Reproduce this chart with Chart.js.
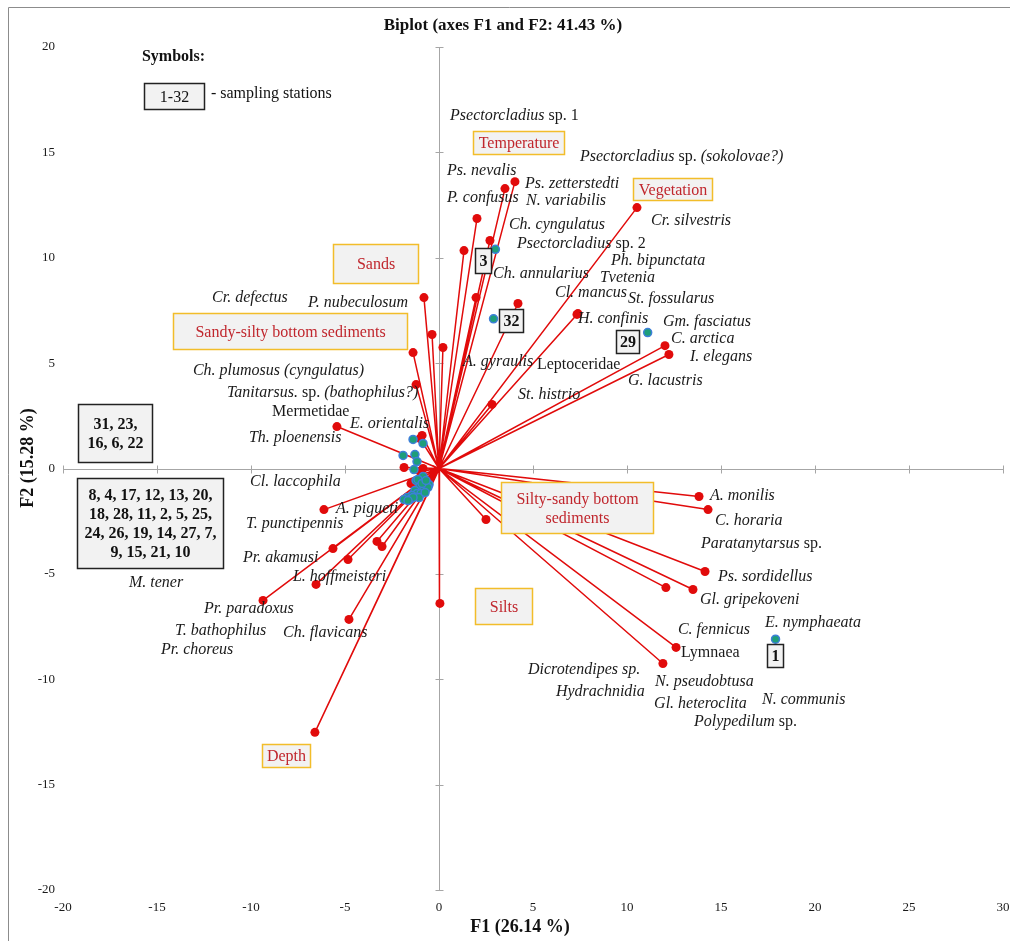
<!DOCTYPE html>
<html>
<head>
<meta charset="utf-8">
<script src="https://cdn.jsdelivr.net/npm/chart.js@4.4.1/dist/chart.umd.min.js"></script>
<style>
  html, body { margin: 0; padding: 0; background: #fff; }
  #wrap { position: relative; width: 1010px; height: 941px; }
</style>
</head>
<body>
<div id="wrap"><canvas id="biplot"></canvas></div>
<script>
// variable vectors (red), F1 / F2 coordinates
var varX = [4.04, 3.51, 2.02, 2.71, 1.33, 1.97, 4.20, 10.53, 7.34, 7.39, 12.02, 12.23, 2.82, 0.21,
  -0.80, -0.37, -1.38, -1.22, -5.43, -0.90, -1.01, -1.86, -1.01, -0.85, -1.49, -6.12, -5.64, -4.84,
  -3.30, -3.03, -6.54, -9.36, -4.79, 0.05, -6.60, 2.50, 13.83, 14.31, 14.15, 12.07, 13.51, 12.61, 11.91];
var varY = [13.61, 13.28, 11.86, 10.82, 10.34, 8.11, 7.83, 12.38, 7.31, 7.35, 5.83, 5.41, 3.04, 5.74,
  8.11, 6.36, 5.50, 3.98, 1.99, 1.57, 1.42, 0.05, -0.14, 0.00, -0.71, -1.95, -3.80, -4.32,
  -3.46, -3.70, -5.50, -6.26, -7.16, -6.40, -12.52, -2.42, -1.33, -1.95, -4.89, -5.65, -5.74, -8.49, -9.25];

// sampling stations (observations)
var siteX = [3.00, 2.90, 11.10, 17.90,
  -1.38, -0.85, -1.91, -1.28, -1.17,
  -1.33, -1.22, -0.85, -1.01, -0.64, -0.53, -0.80, -1.28, -1.17, -0.96, -1.44,
  -1.70, -1.86, -1.54, -1.06, -0.59, -0.74, -1.12, -1.38, -1.65, -0.90, -0.69];
var siteY = [10.40, 7.10, 6.45, -8.10,
  1.38, 1.19, 0.62, 0.66, 0.33,
  -0.05, -0.57, -0.38, -0.81, -0.85, -0.76, -0.95, -1.04, -1.19, -1.19, -1.28,
  -1.38, -1.47, -1.47, -1.38, -0.90, -1.14, -0.52, -1.38, -1.52, -0.71, -0.57];

var xTicks = [-20, -15, -10, -5, 0, 5, 10, 15, 20, 25, 30];
var yTicks = [-20, -15, -10, -5, 0, 5, 10, 15, 20];

var TITLE = "Biplot (axes F1 and F2: 41.43 %)";
var X_TITLE = "F1 (26.14 %)";
var Y_TITLE = "F2 (15.28 %)";

// species labels: text ({...} = upright), anchor (left, middle) in axis units
var speciesLabels = [
  ["Psectorcladius{ sp. 1}", 0.59, 16.75],
  ["Psectorcladius{ sp. }(sokolovae?)", 7.50, 14.80],
  ["Ps. nevalis", 0.43, 14.14],
  ["Ps. zetterstedti", 4.57, 13.52],
  ["P. confusus", 0.43, 12.86],
  ["N. variabilis", 4.63, 12.71],
  ["Ch. cyngulatus", 3.72, 11.57],
  ["Psectorcladius{ sp. 2}", 4.15, 10.67],
  ["Ch. annularius", 2.87, 9.25],
  ["Cr. silvestris", 11.28, 11.76],
  ["Ph. bipunctata", 9.15, 9.87],
  ["Tvetenia", 8.56, 9.06],
  ["Cl. mancus", 6.17, 8.35],
  ["St. fossularus", 10.05, 8.06],
  ["H. confinis", 7.39, 7.12],
  ["Gm. fasciatus", 11.91, 6.97],
  ["C. arctica", 12.34, 6.17],
  ["I. elegans", 13.35, 5.31],
  ["A. gyraulis", 1.28, 5.08],
  ["{Leptoceridae}", 5.21, 4.93],
  ["G. lacustris", 10.05, 4.17],
  ["St. histrio", 4.20, 3.51],
  ["Cr. defectus", -12.07, 8.11],
  ["P. nubeculosum", -6.97, 7.87],
  ["Ch. plumosus (cyngulatus)", -13.09, 4.65],
  ["Tanitarsus.{ sp. }(bathophilus?)", -11.28, 3.61],
  ["{Mermetidae}", -8.88, 2.70],
  ["E. orientalis", -4.73, 2.13],
  ["Th. ploenensis", -10.11, 1.47],
  ["Cl. laccophila", -10.05, -0.62],
  ["A. pigueti", -5.48, -1.90],
  ["T. punctipennis", -10.27, -2.61],
  ["Pr. akamusi", -10.43, -4.22],
  ["L. hoffmeisteri", -7.77, -5.12],
  ["M. tener", -16.49, -5.41],
  ["Pr. paradoxus", -12.50, -6.64],
  ["T. bathophilus", -14.04, -7.69],
  ["Ch. flavicans", -8.30, -7.78],
  ["Pr. choreus", -14.79, -8.59],
  ["A. monilis", 14.41, -1.28],
  ["C. horaria", 14.68, -2.47],
  ["Paratanytarsus{ sp.}", 13.94, -3.56],
  ["Ps. sordidellus", 14.84, -5.12],
  ["Gl. gripekoveni", 13.88, -6.21],
  ["C. fennicus", 12.71, -7.64],
  ["E. nymphaeata", 17.34, -7.31],
  ["{Lymnaea}", 12.87, -8.73],
  ["Dicrotendipes sp.", 4.73, -9.54],
  ["N. pseudobtusa", 11.49, -10.10],
  ["Hydrachnidia", 6.22, -10.58],
  ["Gl. heteroclita", 11.44, -11.15],
  ["N. communis", 17.18, -10.96],
  ["Polypedilum{ sp.}", 13.56, -12.00]
];

// environmental factors (boxed, red text): lines, x1, y1, x2, y2
var envBoxes = [
  [["Temperature"], 1.81, 16.03, 6.65, 14.94],
  [["Vegetation"], 10.32, 13.80, 14.52, 12.76],
  [["Sands"], -5.64, 10.63, -1.12, 8.78],
  [["Sandy-silty bottom sediments"], -14.15, 7.40, -1.70, 5.65],
  [["Silty-sandy bottom", "sediments"], 3.30, -0.66, 11.38, -3.08],
  [["Silts"], 1.91, -5.65, 4.95, -7.40],
  [["Depth"], -9.41, -13.09, -6.86, -14.18]
];

// station number boxes (bold)
var stationBoxes = [
  [["3"], 1.91, 10.44, 2.77, 9.30],
  [["32"], 3.19, 7.59, 4.47, 6.50],
  [["29"], 9.41, 6.55, 10.64, 5.46],
  [["1"], 17.45, -8.35, 18.30, -9.44],
  [["31, 23,", "16, 6, 22"], -19.20, 3.08, -15.27, 0.33],
  [["8, 4, 17, 12, 13, 20,", "18, 28, 11, 2, 5, 25,", "24, 26, 19, 14, 27, 7,", "9, 15, 21, 10"], -19.26, -0.43, -11.49, -4.70]
];

var RED = "#e10b0b";
var SITE_FILL = "#1e9e7a";
var SITE_EDGE = "#3d7fd9";
var AXIS = "#a6a6a6";
var ENV_TEXT = "#c0262d";
var ENV_EDGE = "#f2bd2a";
var BOX_FILL = "#f2f2f2";
var SERIF = "'Liberation Serif', 'Times New Roman', serif";

var vectorPoints = [];
varX.forEach(function (x, i) {
  vectorPoints.push({ x: 0, y: 0 });
  vectorPoints.push({ x: x, y: varY[i] });
});
var sitePoints = siteX.map(function (x, i) { return { x: x, y: siteY[i] }; });

function drawRich(ctx, text, x, y) {
  text.split(/(\{[^}]*\})/).forEach(function (p) {
    if (!p) return;
    var upright = p.charAt(0) === "{";
    var s = upright ? p.slice(1, -1) : p;
    ctx.font = (upright ? "" : "italic ") + "16px " + SERIF;
    ctx.fillText(s, x, y);
    x += ctx.measureText(s).width;
  });
}

function drawBox(ctx, xs, ys, b, edge, color, font) {
  var x1 = Math.round(xs.getPixelForValue(b[1])) + 0.5;
  var y1 = Math.round(ys.getPixelForValue(b[2])) + 0.5;
  var x2 = Math.round(xs.getPixelForValue(b[3])) + 0.5;
  var y2 = Math.round(ys.getPixelForValue(b[4])) + 0.5;
  ctx.fillStyle = BOX_FILL;
  ctx.fillRect(x1, y1, x2 - x1, y2 - y1);
  ctx.strokeStyle = edge;
  ctx.lineWidth = 1.5;
  ctx.strokeRect(x1, y1, x2 - x1, y2 - y1);
  ctx.fillStyle = color;
  ctx.font = font;
  ctx.textAlign = "center";
  ctx.textBaseline = "middle";
  var lines = b[0], lh = 19;
  var cy = (y1 + y2) / 2 - (lines.length - 1) * lh / 2;
  lines.forEach(function (t, i) { ctx.fillText(t, (x1 + x2) / 2, cy + i * lh + 1); });
}

var biplotDecor = {
  id: "biplotDecor",
  beforeDatasetsDraw: function (chart) {
    var ctx = chart.ctx, xs = chart.scales.x, ys = chart.scales.y, a = chart.chartArea;
    ctx.save();
    // frame
    ctx.strokeStyle = "#8c8c8c";
    ctx.lineWidth = 1;
    ctx.beginPath();
    ctx.moveTo(8.5, chart.height); ctx.lineTo(8.5, 7.5); ctx.lineTo(chart.width, 7.5);
    ctx.stroke();
    // zero axes with ticks
    var x0 = Math.round(xs.getPixelForValue(0)) + 0.5;
    var y0 = Math.round(ys.getPixelForValue(0)) + 0.5;
    ctx.strokeStyle = AXIS;
    ctx.beginPath();
    ctx.moveTo(a.left, y0); ctx.lineTo(a.right, y0);
    ctx.moveTo(x0, a.top); ctx.lineTo(x0, a.bottom);
    xTicks.forEach(function (v) {
      var p = Math.round(xs.getPixelForValue(v)) + 0.5;
      ctx.moveTo(p, y0 - 4); ctx.lineTo(p, y0 + 4);
    });
    yTicks.forEach(function (v) {
      var p = Math.round(ys.getPixelForValue(v)) + 0.5;
      ctx.moveTo(x0 - 4, p); ctx.lineTo(x0 + 4, p);
    });
    ctx.stroke();
    // tick labels
    ctx.fillStyle = "#1a1a1a";
    ctx.font = "13px " + SERIF;
    ctx.textAlign = "center";
    ctx.textBaseline = "middle";
    xTicks.forEach(function (v) { ctx.fillText(String(v), xs.getPixelForValue(v), a.bottom + 18); });
    ctx.textAlign = "right";
    yTicks.forEach(function (v) { ctx.fillText(String(v), a.left - 8, ys.getPixelForValue(v)); });
    ctx.restore();
  },
  afterDatasetsDraw: function (chart) {
    var ctx = chart.ctx, xs = chart.scales.x, ys = chart.scales.y;
    ctx.save();
    // species labels
    ctx.fillStyle = "#1a1a1a";
    ctx.textAlign = "left";
    ctx.textBaseline = "middle";
    speciesLabels.forEach(function (l) {
      drawRich(ctx, l[0], xs.getPixelForValue(l[1]), ys.getPixelForValue(l[2]));
    });
    envBoxes.forEach(function (b) { drawBox(ctx, xs, ys, b, ENV_EDGE, ENV_TEXT, "16px " + SERIF); });
    stationBoxes.forEach(function (b) { drawBox(ctx, xs, ys, b, "#222", "#111", "bold 16px " + SERIF); });
    // symbols legend
    ctx.fillStyle = "#111";
    ctx.textAlign = "left";
    ctx.textBaseline = "middle";
    ctx.font = "bold 16px " + SERIF;
    ctx.fillText("Symbols:", xs.getPixelForValue(-15.80), ys.getPixelForValue(19.55));
    drawBox(ctx, xs, ys, [["1-32"], -15.69, 18.31, -12.50, 17.08], "#222", "#111", "16px " + SERIF);
    ctx.fillStyle = "#111";
    ctx.textAlign = "left";
    ctx.font = "16px " + SERIF;
    ctx.fillText("- sampling stations", xs.getPixelForValue(-12.13), ys.getPixelForValue(17.79));
    ctx.restore();
  },
  afterDraw: function (chart) {
    var ctx = chart.ctx;
    ctx.save();
    ctx.fillStyle = "#111";
    ctx.textAlign = "center";
    ctx.textBaseline = "middle";
    ctx.font = "bold 17px " + SERIF;
    ctx.fillText(TITLE, 503, 26);
    ctx.font = "bold 18px " + SERIF;
    ctx.fillText(X_TITLE, 520, 927);
    ctx.translate(28, 458);
    ctx.rotate(-Math.PI / 2);
    ctx.fillText(Y_TITLE, 0, 0);
    ctx.restore();
  }
};

new Chart(document.getElementById("biplot"), {
  type: "scatter",
  data: {
    datasets: [
      {
        label: "sites",
        data: sitePoints,
        pointRadius: 4,
        pointBackgroundColor: SITE_FILL,
        pointBorderColor: SITE_EDGE,
        pointBorderWidth: 1.5,
        order: 1
      },
      {
        label: "variables",
        data: vectorPoints,
        showLine: true,
        borderColor: RED,
        borderWidth: 1.5,
        tension: 0,
        pointRadius: function (c) { return c.raw && (c.raw.x !== 0 || c.raw.y !== 0) ? 4.5 : 0; },
        pointBackgroundColor: RED,
        pointBorderWidth: 0,
        order: 2
      }
    ]
  },
  options: {
    responsive: true,
    maintainAspectRatio: false,
    animation: false,
    layout: { padding: { left: 63, right: 7, top: 47, bottom: 51 } },
    plugins: { legend: { display: false }, tooltip: { enabled: false } },
    scales: {
      x: { type: "linear", min: -20, max: 30, display: false, ticks: { stepSize: 5 } },
      y: { type: "linear", min: -20, max: 20, display: false, ticks: { stepSize: 5 } }
    }
  },
  plugins: [biplotDecor]
});
</script>
</body>
</html>
